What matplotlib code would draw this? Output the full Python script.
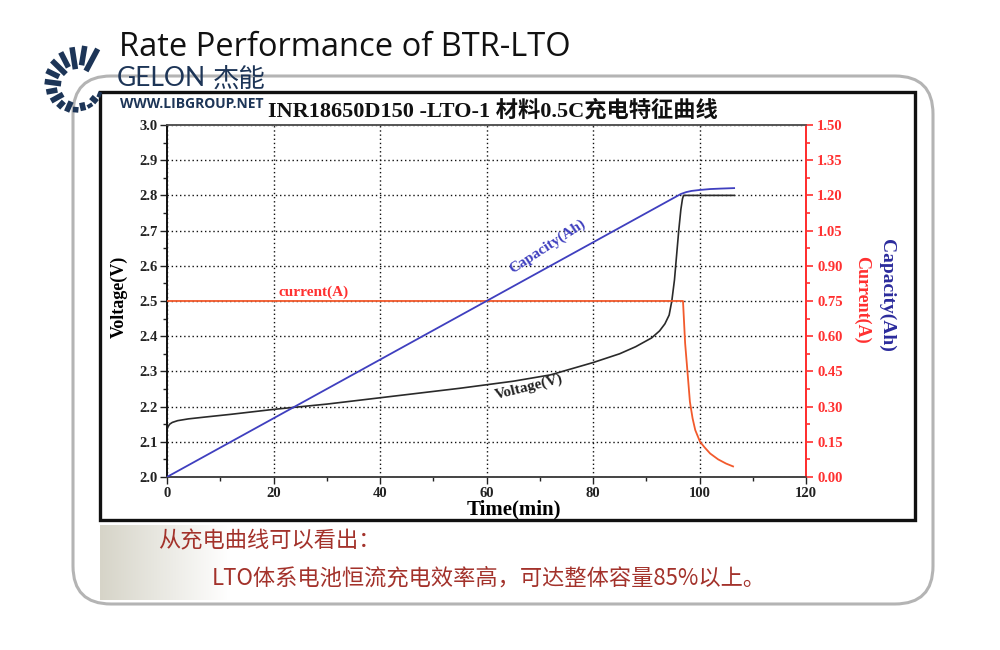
import numpy as np
import matplotlib
matplotlib.use("Agg")
import matplotlib.pyplot as plt
from matplotlib.patches import FancyBboxPatch, Rectangle
from matplotlib.ticker import MultipleLocator
from matplotlib.font_manager import FontProperties

# ---------------- data ----------------
time_voltage = [0, 0.2, 0.5, 1, 2, 4, 7, 12, 20, 24, 30, 40, 50, 55, 60, 65, 72, 80,
                85, 88, 91, 92.5, 93.5, 94.3, 94.8, 95.3, 95.7, 96.1, 96.5, 96.8,
                97.0, 97.5, 106.5]
voltage = [2.135, 2.143, 2.150, 2.155, 2.160, 2.165, 2.170, 2.178, 2.192, 2.198,
           2.207, 2.225, 2.243, 2.252, 2.262, 2.272, 2.290, 2.325, 2.350, 2.370,
           2.395, 2.415, 2.435, 2.460, 2.500, 2.560, 2.630, 2.700, 2.760, 2.790,
           2.800, 2.800, 2.800]

time_current = [0, 96.9, 97.1, 97.3, 97.7, 98.2, 98.7, 99.2, 100.1, 101, 102,
                103.5, 105, 106.3]
current = [0.75, 0.75, 0.66, 0.57, 0.46, 0.32, 0.25, 0.20, 0.15, 0.125, 0.10,
           0.075, 0.057, 0.045]

time_capacity = [0, 96.5, 97.5, 98.5, 100, 102, 104, 106.5]
capacity = [0.0, 1.206, 1.214, 1.219, 1.223, 1.227, 1.229, 1.231]

x_ticks = [0, 20, 40, 60, 80, 100, 120]
v_ticks = [2.0, 2.1, 2.2, 2.3, 2.4, 2.5, 2.6, 2.7, 2.8, 2.9, 3.0]
i_ticks = [0.00, 0.15, 0.30, 0.45, 0.60, 0.75, 0.90, 1.05, 1.20, 1.35, 1.50]

# ---------------- styles ----------------
SERIF = ['Liberation Serif', 'Noto Sans CJK SC']
CJK = ['Noto Sans CJK SC', 'DejaVu Sans']
RED = '#ff3030'
ORANGE = '#f25a2c'
BLUE = '#3f3fbf'
DBLUE = '#2b2b9c'
NAVY = '#1d3557'

fig = plt.figure(figsize=(10, 6.5), dpi=100)

# background / decoration layer in pixel coordinates
bg = fig.add_axes([0, 0, 1, 1], zorder=0)
bg.set_xlim(0, 1000)
bg.set_ylim(650, 0)
bg.axis('off')

panel = FancyBboxPatch((73, 76), 860, 528, boxstyle="round,pad=0,rounding_size=38",
                       fc='white', ec='#b4b4b4', lw=2.2)
bg.add_patch(panel)

# gradient at lower-left of panel
grad = np.linspace(0, 1, 256)[None, :]
cm = matplotlib.colors.LinearSegmentedColormap.from_list('g', ['#d6d4c8', '#ffffff'])
bg.imshow(grad, extent=(100, 230, 600, 525), cmap=cm, aspect='auto', zorder=1)

chart_box = Rectangle((100, 92), 815, 428, fc='white', ec='#111111', lw=2.4, zorder=2)
bg.add_patch(chart_box)

# logo sunburst
cx, cy = 78, 86
angles = np.linspace(62, 338, 16)
for k, a in enumerate(angles):
    r_in = 17 + 4 * (k % 2)
    r_out = max(42 - 1.4 * k, 25)
    rad = np.deg2rad(a)
    bg.plot([cx + r_in * np.cos(rad), cx + r_out * np.cos(rad)],
            [cy - r_in * np.sin(rad), cy - r_out * np.sin(rad)],
            color=NAVY, lw=4, solid_capstyle='butt', zorder=3)

bg.text(119, 48, 'Rate Performance of BTR-LTO', fontsize=23.5, family='Open Sans',
        color='#111111', va='center', ha='left', zorder=4)
bg.text(117, 79, 'GELON', fontsize=19, family='Lato', color=NAVY,
        va='center', ha='left', zorder=4)
bg.text(213, 79, '杰能', fontsize=19, family=CJK, color=NAVY,
        va='center', ha='left', zorder=4)
bg.text(120, 104, 'WWW.LIBGROUP.NET', fontsize=10, family='Open Sans',
        fontweight='bold', color=NAVY, va='center', ha='left', zorder=4)

bg.text(493, 111, 'INR18650D150 -LTO-1 材料0.5C充电特征曲线', fontsize=16,
        family=SERIF, fontweight='bold', color='#111111', va='center',
        ha='center', zorder=4)

bg.text(158, 541, '从充电曲线可以看出：', fontsize=16, family=CJK,
        color='#a3322b', va='center', ha='left', zorder=4)
bg.text(212, 578, 'LTO体系电池恒流充电效率高，可达整体容量85%以上。', fontsize=16,
        family=CJK, color='#a3322b', va='center', ha='left', zorder=4)

# ---------------- main chart ----------------
ax = fig.add_axes([0.167, 0.2662, 0.639, 0.5415], zorder=3)
ax.patch.set_alpha(0)
ax2 = ax.twinx()

ax.set_xlim(0, 120)
ax.set_ylim(2.0, 3.0)
ax2.set_ylim(0, 1.5)

ax.grid(True, which='major', color='#111111', linestyle=(0, (1, 2)), lw=1)
ax.set_axisbelow(True)

ax.plot(time_voltage, voltage, color='#2a2a2a', lw=1.2, zorder=4)
ax2.plot(time_current, current, color=ORANGE, lw=1.3, zorder=4)
ax2.plot(time_capacity, capacity, color=BLUE, lw=1.3, zorder=5)

ax.set_xticks(x_ticks)
ax.set_yticks(v_ticks)
ax.set_yticklabels([f'{v:.1f}' for v in v_ticks])
ax2.set_yticks(i_ticks)
ax2.set_yticklabels([f'{v:.2f}' for v in i_ticks])
ax.xaxis.set_minor_locator(MultipleLocator(10))
ax.yaxis.set_minor_locator(MultipleLocator(0.05))
ax2.yaxis.set_minor_locator(MultipleLocator(0.075))

tick_fp = FontProperties(family='Liberation Serif', weight='bold', size=10.5)
for lab in ax.get_xticklabels() + ax.get_yticklabels():
    lab.set_fontproperties(tick_fp)
for lab in ax2.get_yticklabels():
    lab.set_fontproperties(tick_fp)
    lab.set_color(RED)

ax.tick_params(axis='both', which='major', direction='out', length=5, width=1,
               colors='#222222', pad=2)
ax.tick_params(axis='both', which='minor', direction='out', length=3, width=1,
               colors='#222222')
ax2.tick_params(axis='y', which='major', direction='out', length=5, width=1.2,
                colors=RED, pad=3)
ax2.tick_params(axis='y', which='minor', direction='out', length=3, width=1.2,
                colors=RED)

for a in (ax, ax2):
    a.spines['left'].set_color('#111111')
    a.spines['bottom'].set_color('#444444')
    a.spines['top'].set_color('#555555')
    a.spines['right'].set_color(RED)
    a.spines['right'].set_linewidth(1.4)
    a.spines['left'].set_linewidth(1.2)
    a.spines['bottom'].set_linewidth(1.2)
    a.spines['top'].set_linewidth(1.2)

# axis titles
fig.text(0.514, 1 - 509 / 650, 'Time(min)', family='Liberation Serif',
         fontweight='bold', fontsize=15, ha='center', va='center')
fig.text(0.119, 1 - 297 / 650, 'Voltage(V)', rotation=90, family='Liberation Serif',
         fontweight='bold', fontsize=13, ha='center', va='center')
fig.text(0.862, 1 - 300 / 650, 'Current(A)', rotation=-90, color=RED,
         family='Liberation Serif', fontweight='bold', fontsize=13,
         ha='center', va='center')
fig.text(0.887, 1 - 295 / 650, 'Capacity(Ah)', rotation=-90, color=DBLUE,
         family='Liberation Serif', fontweight='bold', fontsize=14,
         ha='center', va='center')

# inline labels
ax.text(27.5, 2.525, 'current(A)', color=RED, family='Liberation Serif',
        fontweight='bold', fontsize=11, ha='center', va='center')
ax.text(71.5, 2.655, 'Capacity(Ah)', color=BLUE, family='Liberation Serif',
        fontweight='bold', fontsize=11, ha='center', va='center', rotation=33)
ax.text(68, 2.255, 'Voltage(V)', color='#222222', family='Liberation Serif',
        fontweight='bold', fontsize=11, ha='center', va='center', rotation=14)

fig.savefig('out.png', dpi=100)
